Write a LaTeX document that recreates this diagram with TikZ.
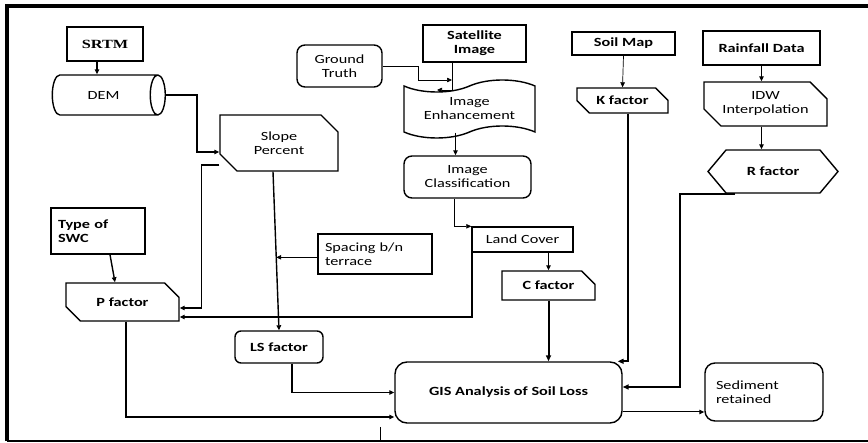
\documentclass[tikz,border=0pt]{standalone}
\usepackage{fontspec}
\setmainfont{Carlito}[FakeStretch=1.3]
\newfontfamily\srtmfont{Liberation Serif}[FakeStretch=1.3]
\usepackage{xcolor}
\usepackage{tikz}
\usetikzlibrary{arrows.meta, calc, shapes.misc, shapes.geometric, shapes.symbols}
\tikzset{
  every node/.style={font=\fontsize{12.5}{14}\selectfont, inner sep=2pt},
  box/.style={draw, line width=1.4pt, align=center},
  cutbox/.style={box, chamfered rectangle, chamfered rectangle corners={north east, south west},
                 chamfered rectangle xsep=9pt, chamfered rectangle ysep=8pt},
  roundbox/.style={box, rounded corners=8pt},
  link/.style={line width=1.4pt, -{Triangle[length=5pt, width=4.5pt]}},
  thinlink/.style={line width=0.7pt, -{Triangle[length=5pt, width=4.5pt]}},
  heavylink/.style={line width=2pt, -{Triangle[length=6pt, width=5pt]}}
}

\begin{document}
\begin{tikzpicture}[x=1pt, y=-1pt]
    \useasboundingbox (0,0) rectangle (868,443);
    \draw[line width=3.5pt] (868,6) -| (7,441);
    \draw[line width=1.5pt] (7,441) -- (868,441);

    % left column
    \node[box, minimum width=76pt, minimum height=34pt,
          font=\srtmfont\bfseries\fontsize{12.5}{14}\selectfont] (srtm) at (105,44) {SRTM};
    \node[draw, line width=1.4pt, cylinder, aspect=1.5, inner sep=1pt,
          minimum width=40pt, minimum height=113pt] (dem) at (103.5,95) {DEM};
    \node[cutbox, minimum width=118pt, minimum height=56pt] (slope) at (279,143) {Slope\\Percent};
    \node[box, minimum width=94pt, minimum height=46pt, text width=80pt, align=left,
          font=\bfseries\fontsize{12.5}{14}\selectfont] (swc) at (98,231) {Type of\\SWC};
    \node[cutbox, minimum width=113pt, minimum height=38pt,
          font=\bfseries\fontsize{12.5}{14}\selectfont] (pf) at (122.5,302) {P factor};
    \node[box, minimum width=114pt, minimum height=40pt, text width=100pt, align=left] (spacing)
          at (375,254) {Spacing b/n\\terrace};
    \node[roundbox, rounded corners=6pt, minimum width=88pt, minimum height=32pt,
          font=\bfseries\fontsize{12.5}{14}\selectfont] (lsf) at (279,347) {LS factor};

    % middle column
    \node[roundbox, minimum width=85pt, minimum height=42pt] (gt) at (339.5,66) {Ground\\Truth};
    \node[box, minimum width=103pt, minimum height=37pt,
          font=\bfseries\fontsize{12.5}{14}\selectfont] (sat) at (474.5,43.5) {Satellite\\Image};
    \node[box, tape, tape bend height=12pt, minimum width=131pt, minimum height=58pt] (enh)
          at (469.5,109) {Image\\Enhancement};
    \node[roundbox, minimum width=127pt, minimum height=42pt] (cls) at (467.5,177) {Image\\Classification};
    \node[box, minimum width=101pt, minimum height=25pt] (lc) at (522.5,239.5) {Land Cover};
    \node[box, chamfered rectangle, chamfered rectangle corners=north east,
          chamfered rectangle xsep=8pt, chamfered rectangle ysep=7pt,
          minimum width=93pt, minimum height=29pt,
          font=\bfseries\fontsize{12.5}{14}\selectfont] (cf) at (548.5,285.5) {C factor};

    % right column
    \node[box, minimum width=103pt, minimum height=23pt,
          font=\bfseries\fontsize{12.5}{14}\selectfont] (soil) at (623.5,43.5) {Soil Map};
    \node[cutbox, chamfered rectangle xsep=7pt, chamfered rectangle ysep=6pt,
          minimum width=91pt, minimum height=25pt,
          font=\bfseries\fontsize{12.5}{14}\selectfont] (kf) at (622.5,100.5) {K factor};
    \node[box, minimum width=117pt, minimum height=34pt,
          font=\bfseries\fontsize{12.5}{14}\selectfont] (rain) at (761.5,48) {Rainfall Data};
    \node[cutbox, minimum width=123pt, minimum height=44pt] (idw) at (765.5,104) {IDW\\Interpolation};
    \node[box, signal, signal to=east and west, signal pointer angle=100,
          minimum width=130pt, minimum height=43pt,
          font=\bfseries\fontsize{12.5}{14}\selectfont] (rf) at (773,171.5) {R factor};

    % bottom row
    \node[roundbox, rounded corners=12pt, minimum width=227pt, minimum height=61pt,
          font=\bfseries\fontsize{12.5}{14}\selectfont] (gis) at (508.5,392.5) {GIS Analysis of Soil Loss};
    \node[roundbox, rounded corners=10pt, minimum width=118pt, minimum height=58pt,
          text width=96pt, align=left] (sed) at (764,392) {Sediment\\retained};

    % helper points
    \coordinate (onls) at ($([xshift=-6pt]slope.south)!0.54!(lsf.north)$);
    \coordinate (gtin) at (452,80);
    \coordinate (satin) at (437,90);

    % connectors
    \draw[link] ([xshift=-8pt]srtm.south) -- ([xshift=-8pt]srtm.south |- dem.north);
    \draw[link] (dem.top) -- ++(31,0) |- ([yshift=-9pt]slope.west);
    \draw[link] ([yshift=-22pt]slope.west) -- ++(-18,0) |- ([yshift=-6pt]pf.east);
    \draw[link] ([xshift=-6pt]slope.south) -- (lsf.north);
    \draw[thinlink] (spacing.west |- onls) -- (onls);
    \draw[link] ([xshift=12pt]swc.south) -- ([xshift=-7.5pt]pf.north);
    \draw[link] ([xshift=3.5pt]pf.south) |- ([yshift=-24.5pt]gis.west);
    \draw[link] ([xshift=13pt]lsf.south) |- (gis.west);
    \draw[link, line width=1pt] ([yshift=-19.5pt]gis.east) -- ([yshift=-19.5pt]gis.east -| sed.west);
    \draw[line width=0.8pt] (380,427) -- (380,441);

    \draw[thinlink] (gt.east) -- ++(36,0) |- (gtin);
    \draw[thinlink] ([xshift=-22.5pt]sat.south) |- (satin);
    \draw[link, line width=1pt] ([xshift=-14pt]enh.south) -- ([xshift=-14pt]enh.south |- cls.north);
    \draw[thinlink] ([xshift=-13pt]cls.south) |- (lc.north west);
    \draw[link] ([xshift=0.5pt]lc.south west) |- ([yshift=-15pt]pf.east);
    \draw[link, line width=1pt] (cf.north |- lc.south) -- (cf.north);
    \draw[heavylink] (cf.south) -- (cf.south |- gis.north);

    \draw[thinlink] (soil.south) -- (kf.north);
    \draw[heavylink] ([xshift=5.5pt]kf.south) |- ([xshift=-5pt]gis.north east);
    \draw[link, line width=1pt] (rain.south) -- (rain.south |- idw.north);
    \draw[link, line width=1pt] (idw.south -| rain.south) -- (rf.north -| rain.south);
    \draw[heavylink] ([xshift=-38pt]rf.south) -- ++(-55,0) |- ([yshift=5.5pt]gis.east);
\end{tikzpicture}
\end{document}
